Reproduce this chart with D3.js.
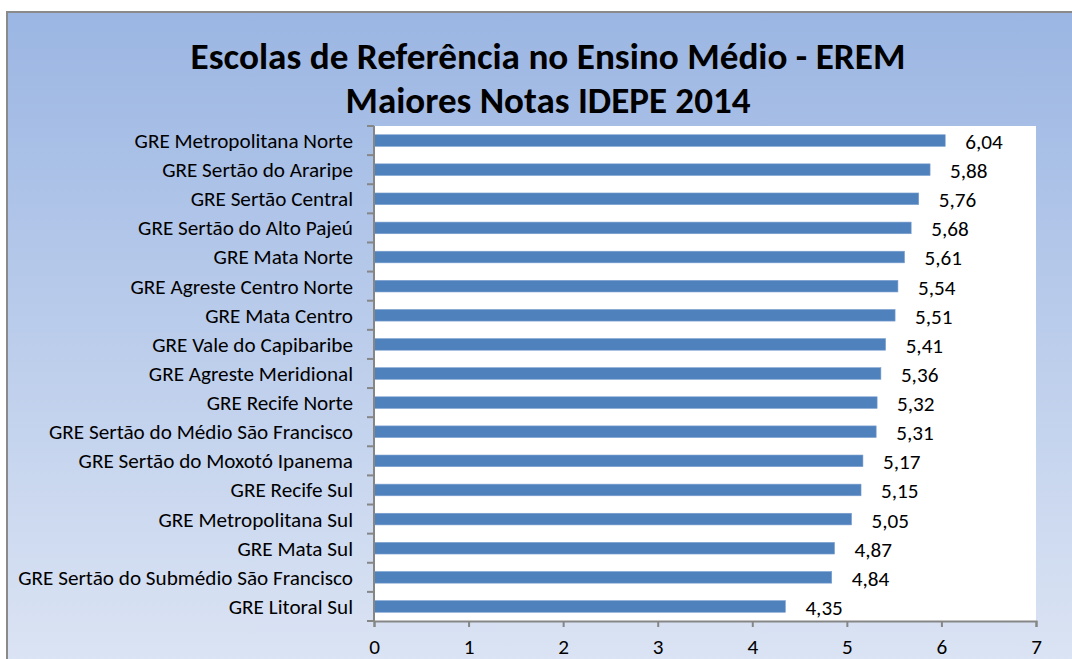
<!DOCTYPE html>
<html>
<head>
<meta charset="utf-8">
<script src="https://cdn.jsdelivr.net/npm/d3@7"></script>
<style>
  html, body { margin: 0; padding: 0; background: #fff; }
  svg { display: block; font-family: Carlito, Lato, "Open Sans", sans-serif; }
</style>
</head>
<body>
<script>
/*--- data ---*/
let regionais = [
    "GRE Metropolitana Norte",
    "GRE Sertão do Araripe",
    "GRE Sertão Central",
    "GRE Sertão do Alto Pajeú",
    "GRE Mata Norte",
    "GRE Agreste Centro Norte",
    "GRE Mata Centro",
    "GRE Vale do Capibaribe",
    "GRE Agreste Meridional",
    "GRE Recife Norte",
    "GRE Sertão do Médio São Francisco",
    "GRE Sertão do Moxotó Ipanema",
    "GRE Recife Sul",
    "GRE Metropolitana Sul",
    "GRE Mata Sul",
    "GRE Sertão do Submédio São Francisco",
    "GRE Litoral Sul"
];
let notas = [6.04, 5.88, 5.76, 5.68, 5.61, 5.54, 5.51, 5.41, 5.36, 5.32, 5.31, 5.17, 5.15, 5.05, 4.87, 4.84, 4.35];
let xTicks = [0, 1, 2, 3, 4, 5, 6, 7];
let titulo = ["Escolas de Referência no Ensino Médio - EREM", "Maiores Notas IDEPE 2014"];

/*--- variables ---*/
let W = 1072, H = 659;
let plot = {left: 374, right: 1036, top: 126, bottom: 621};
let eixoCor = "#868686";
let virgula = d3.formatLocale({decimal: ",", thousands: ".", grouping: [3], currency: ["", ""]}).format(".2f");

let svg = d3.select("body").append("svg")
    .attr("width", W)
    .attr("height", H);

// fundo em degradê
let grad = svg.append("defs").append("linearGradient")
    .attr("id", "fundo")
    .attr("x1", 0).attr("y1", 0).attr("x2", 0).attr("y2", 1);
grad.append("stop").attr("offset", "0%").attr("stop-color", "#9bb6e3");
grad.append("stop").attr("offset", "100%").attr("stop-color", "#dde5f4");

svg.append("rect")
    .attr("x", 7).attr("y", 12)
    .attr("width", W + 10).attr("height", H + 10)
    .attr("fill", "url(#fundo)")
    .attr("stroke", "#8a8a8a")
    .attr("stroke-width", 2);

/*--- scales ---*/
let X = d3.scaleLinear().domain([0, 7]).range([plot.left, plot.right]);
let Y = d3.scaleBand().domain(regionais).range([plot.top, plot.bottom]).paddingInner(0.6).paddingOuter(0.3);
let Yb = d3.scaleBand().domain(regionais).range([plot.top, plot.bottom]);

// área do gráfico
svg.append("rect")
    .attr("x", plot.left).attr("y", plot.top)
    .attr("width", plot.right - plot.left).attr("height", plot.bottom - plot.top)
    .attr("fill", "#fff");

// título
let tit = svg.append("g").attr("font-weight", "bold").attr("fill", "#000");
let larguras = [715, 405];
let bases = [69, 113];
titulo.forEach(function(t, i) {
    let txt = tit.append("text")
        .attr("x", 548).attr("y", bases[i])
        .attr("text-anchor", "middle")
        .attr("font-size", 32)
        .text(t);
    let w = txt.node().getComputedTextLength();
    txt.attr("font-size", 32 * larguras[i] / w);
});

// tamanho da fonte: o rótulo mais longo ocupa ~335px
let medida = svg.append("text").attr("font-size", 16).text(regionais[15]);
let fs = 16 * 335 / medida.node().getComputedTextLength();
medida.remove();

// barras
svg.append("g").selectAll("rect")
    .data(notas)
    .join("rect")
    .attr("x", X(0))
    .attr("y", (d, i) => Y(regionais[i]))
    .attr("width", d => X(d) - X(0))
    .attr("height", Y.bandwidth())
    .attr("fill", "#4f81bd")
    .attr("stroke", "#7ea2d0")
    .attr("stroke-width", 0.6);

// rótulos dos valores
svg.append("g").selectAll("text")
    .data(notas)
    .join("text")
    .attr("x", d => X(d) + 20)
    .attr("y", (d, i) => Yb(regionais[i]) + Yb.bandwidth() / 2 + 1)
    .attr("dy", "0.35em")
    .attr("font-size", fs)
    .attr("fill", "#000")
    .text(d => virgula(d));

/*--- eixos ---*/
let yEixo = svg.append("g")
    .attr("transform", "translate(" + plot.left + ",0)");
yEixo.append("line")
    .attr("y1", plot.top).attr("y2", plot.bottom)
    .attr("stroke", eixoCor).attr("stroke-width", 2);
yEixo.selectAll("line.tick")
    .data(regionais.concat(["fim"]))
    .join("line")
    .attr("class", "tick")
    .attr("x1", -7).attr("x2", 0)
    .attr("y1", (d, i) => i < regionais.length ? Yb(d) : plot.bottom)
    .attr("y2", (d, i) => i < regionais.length ? Yb(d) : plot.bottom)
    .attr("stroke", eixoCor).attr("stroke-width", 2);
yEixo.selectAll("text")
    .data(regionais)
    .join("text")
    .attr("x", -21)
    .attr("y", d => Yb(d) + Yb.bandwidth() / 2)
    .attr("dy", "0.35em")
    .attr("text-anchor", "end")
    .attr("font-size", fs)
    .attr("fill", "#000")
    .text(d => d);

let xEixo = d3.axisBottom(X).tickValues(xTicks).tickSize(6).tickPadding(12).tickFormat(d3.format("d"));
let gx = svg.append("g")
    .attr("transform", "translate(0," + plot.bottom + ")")
    .call(xEixo);
gx.attr("font-family", null).attr("font-size", null);
gx.select(".domain").attr("stroke", eixoCor).attr("stroke-width", 2);
gx.selectAll(".tick line").attr("stroke", eixoCor).attr("stroke-width", 2);
gx.selectAll(".tick text")
    .attr("font-size", fs)
    .attr("fill", "#000");
</script>
</body>
</html>
